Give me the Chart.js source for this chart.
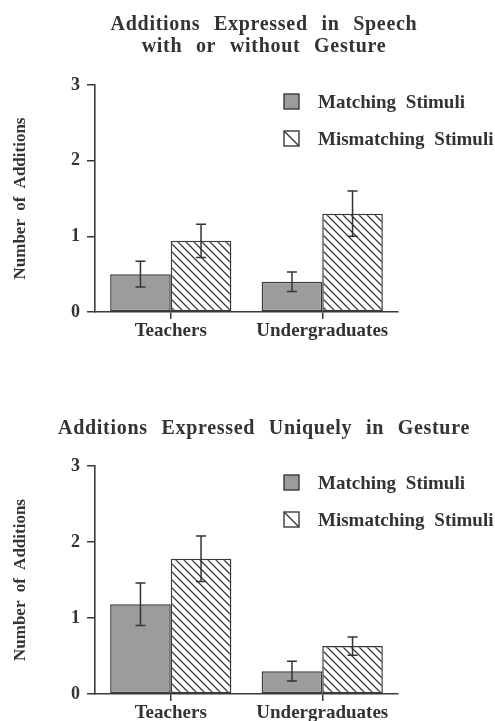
<!DOCTYPE html>
<html>
<head>
<meta charset="utf-8">
<script src="https://cdn.jsdelivr.net/npm/chart.js@4/dist/chart.umd.min.js"></script>
<style>
  html, body { margin: 0; padding: 0; background: #fff; overflow: hidden; }
  canvas { position: absolute; left: 0; }
  #c1 { top: 0; }
  #c2 { top: 360px; }
</style>
</head>
<body>
<canvas id="c1" width="495" height="360"></canvas>
<canvas id="c2" width="495" height="361"></canvas>
<script>
// ---- data ----
const categories = ['Teachers', 'Undergraduates'];
const seriesLabels = ['Matching Stimuli', 'Mismatching Stimuli'];
const yTickValues = [0, 1, 2, 3];
const yAxisTitle = 'Number of Additions';

const speechTitle = ['Additions Expressed in Speech', 'with or without Gesture'];
const speechMatching = [0.50, 0.40];
const speechMismatching = [0.94, 1.30];
const speechMatchingErr = [0.17, 0.13];
const speechMismatchingErr = [0.22, 0.30];

const gestureTitle = ['Additions Expressed Uniquely in Gesture'];
const gestureMatching = [1.18, 0.30];
const gestureMismatching = [1.78, 0.63];
const gestureMatchingErr = [0.28, 0.13];
const gestureMismatchingErr = [0.30, 0.12];

// ---- styles ----
const SERIF = "'Liberation Serif', 'Times New Roman', serif";
const INK = '#333333';
const LINE = '#3a3a3a';
const GRAY = '#9c9c9c';

function makeHatch() {
  const s = 8;
  const c = document.createElement('canvas');
  c.width = s; c.height = s;
  const g = c.getContext('2d');
  g.fillStyle = '#ffffff';
  g.fillRect(0, 0, s, s);
  g.strokeStyle = '#3a3a3a';
  g.lineWidth = 1.3;
  g.beginPath();
  g.moveTo(-1, -1); g.lineTo(s + 1, s + 1);
  g.moveTo(-1, s - 1); g.lineTo(1, s + 1);
  g.moveTo(s - 1, -1); g.lineTo(s + 1, 1);
  g.stroke();
  return g.createPattern(c, 'repeat');
}
const hatch = makeHatch();

const decor = {
  id: 'decor',
  beforeDraw(chart) {
    try { chart.ctx.wordSpacing = '4px'; } catch (e) {}
  },
  afterDatasetsDraw(chart) {
    const ctx = chart.ctx;
    const ys = chart.scales.y;
    chart.data.datasets.forEach((ds, di) => {
      const meta = chart.getDatasetMeta(di);
      meta.data.forEach((bar, i) => {
        const v = ds.data[i], e = ds.errors[i];
        const x = bar.x;
        const yt = ys.getPixelForValue(v + e);
        const yb = ys.getPixelForValue(v - e);
        ctx.save();
        ctx.strokeStyle = INK;
        ctx.lineWidth = 1.5;
        ctx.beginPath();
        ctx.moveTo(x, yt); ctx.lineTo(x, yb);
        ctx.moveTo(x - 5, yt); ctx.lineTo(x + 5, yt);
        ctx.moveTo(x - 5, yb); ctx.lineTo(x + 5, yb);
        ctx.stroke();
        ctx.restore();
      });
    });
  },
  afterDraw(chart, args, opts) {
    const ctx = chart.ctx;
    const area = chart.chartArea;
    // title
    ctx.save();
    ctx.fillStyle = INK;
    ctx.font = 'bold 20px ' + SERIF;
    ctx.textAlign = 'center';
    ctx.textBaseline = 'alphabetic';
    try { ctx.letterSpacing = '0.7px'; ctx.wordSpacing = '8px'; } catch (e) {}
    opts.title.forEach((line, i) => {
      ctx.fillText(line, opts.titleX, opts.titleBaselines[i]);
    });
    ctx.restore();
    // legend
    const rows = [area.top + 16.5, area.top + 53.5];
    chart.data.datasets.forEach((ds, di) => {
      const cy = rows[di];
      const bx = 284, bs = 15;
      ctx.save();
      ctx.lineWidth = 1.4;
      ctx.strokeStyle = LINE;
      if (di === 0) {
        ctx.fillStyle = GRAY;
        ctx.fillRect(bx, cy - bs / 2, bs, bs);
        ctx.strokeRect(bx, cy - bs / 2, bs, bs);
      } else {
        ctx.fillStyle = '#fff';
        ctx.fillRect(bx, cy - bs / 2, bs, bs);
        ctx.strokeRect(bx, cy - bs / 2, bs, bs);
        ctx.beginPath();
        ctx.moveTo(bx, cy - bs / 2);
        ctx.lineTo(bx + bs, cy + bs / 2);
        ctx.stroke();
      }
      ctx.fillStyle = INK;
      ctx.font = 'bold 19px ' + SERIF;
      ctx.textAlign = 'left';
      ctx.textBaseline = 'alphabetic';
      try { ctx.wordSpacing = '5px'; } catch (e) {}
      ctx.fillText(ds.label, 318, cy + 6.3);
      ctx.restore();
    });
  }
};

function buildChart(id, title, titleBaselines, matching, mismatching, matchErr, mismatchErr, padTop, xHeight, padBottom) {
  return new Chart(document.getElementById(id), {
    type: 'bar',
    data: {
      labels: categories,
      datasets: [
        { label: seriesLabels[0], data: matching, errors: matchErr,
          backgroundColor: GRAY, borderColor: LINE, borderWidth: 1.5, borderSkipped: false },
        { label: seriesLabels[1], data: mismatching, errors: mismatchErr,
          backgroundColor: hatch, borderColor: LINE, borderWidth: 1.5, borderSkipped: false }
      ]
    },
    options: {
      responsive: false,
      animation: false,
      devicePixelRatio: 1,
      layout: { padding: { left: 0, right: 97, top: padTop, bottom: padBottom } },
      datasets: { bar: { categoryPercentage: 0.8, barPercentage: 1.0 } },
      plugins: {
        legend: { display: false },
        title: { display: false },
        tooltip: { enabled: false },
        decor: { title: title, titleBaselines: titleBaselines, titleX: 264 }
      },
      scales: {
        x: {
          grid: { display: true, offset: false, drawOnChartArea: false, drawTicks: true,
                  tickLength: 7, color: LINE, lineWidth: 1.5 },
          border: { display: true, color: LINE, width: 1.6 },
          ticks: { color: INK, padding: 1, font: { family: SERIF, size: 19, weight: 'bold' } },
          afterFit(scale) { scale.height = xHeight; scale.paddingLeft = 0; scale.paddingRight = 0; }
        },
        y: {
          min: 0, max: 3,
          afterBuildTicks(scale) { scale.ticks = yTickValues.map(v => ({ value: v })); },
          grid: { display: true, drawOnChartArea: false, drawTicks: true,
                  tickLength: 8, color: LINE, lineWidth: 1.5 },
          border: { display: true, color: LINE, width: 1.6 },
          ticks: { color: INK, padding: 7, font: { family: SERIF, size: 18, weight: 'bold' } },
          title: { display: true, text: yAxisTitle, color: INK,
                   padding: { top: 10, bottom: 0 },
                   font: { family: SERIF, size: 17, weight: 'bold' } },
          afterFit(scale) { scale.width = 95; scale.paddingTop = 0; scale.paddingBottom = 0; }
        }
      }
    },
    plugins: [decor]
  });
}

buildChart('c1', speechTitle, [30, 52], speechMatching, speechMismatching,
           speechMatchingErr, speechMismatchingErr, 85, 30, 18);
buildChart('c2', gestureTitle, [74], gestureMatching, gestureMismatching,
           gestureMatchingErr, gestureMismatchingErr, 106, 27, 0);
</script>
</body>
</html>
